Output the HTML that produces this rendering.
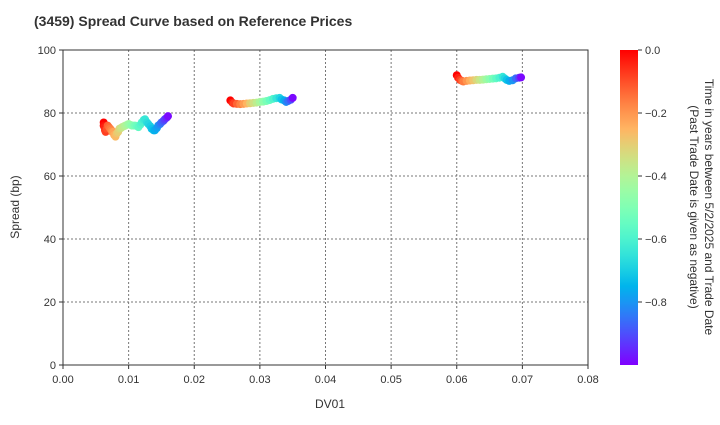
<!DOCTYPE html>
<html><head><meta charset="utf-8"><style>
body{margin:0;background:#fff;font-family:"Liberation Sans",sans-serif;}
svg text{font-family:"Liberation Sans",sans-serif;fill:#333;}
</style></head><body>
<svg width="720" height="420">
<defs><linearGradient id="cb" x1="0" y1="1" x2="0" y2="0" id2="g"></linearGradient></defs>
<text x="34" y="26" font-size="14" font-weight="bold" fill="#222">(3459)   Spread Curve based on Reference Prices</text>
<g id="grid"></g><g id="pts"></g><g id="axes"></g>
<rect x="620" y="50" width="18" height="315" fill="url(#cb)"/>
<g id="cbticks"></g>
<text x="330" y="408" font-size="12" text-anchor="middle">DV01</text>
<text transform="translate(19,207) rotate(-90)" font-size="12" text-anchor="middle">Spread (bp)</text>
<text transform="translate(699,207) rotate(90)" font-size="12" text-anchor="middle"><tspan x="0" dy="-6">Time in years between 5/2/2025 and Trade Date</tspan><tspan x="0" dy="15">(Past Trade Date is given as negative)</tspan></text>
</svg>
<script>
const xTicks=[0,0.01,0.02,0.03,0.04,0.05,0.06,0.07,0.08];
const xTickLabels=["0.00","0.01","0.02","0.03","0.04","0.05","0.06","0.07","0.08"];
const yTicks=[0,20,40,60,80,100];
const cTicks=[0,-0.2,-0.4,-0.6,-0.8];
const cTickLabels=["0.0","−0.2","−0.4","−0.6","−0.8"];
const dv01=[0.0062,0.0062,0.0063,0.0064,0.0065,0.0067,0.0068,0.007,0.0072,0.0074,0.0075,0.0077,0.0078,0.008,0.0082,0.0084,0.0086,0.0088,0.009,0.0093,0.0095,0.0098,0.0100,0.0103,0.0105,0.0108,0.011,0.0113,0.0115,0.0118,0.012,0.0123,0.0125,0.0128,0.013,0.0133,0.0135,0.0138,0.014,0.0143,0.0145,0.0148,0.015,0.0153,0.0155,0.0158,0.016,
0.0255,0.0258,0.026,0.0265,0.027,0.0275,0.028,0.0285,0.029,0.0295,0.030,0.0305,0.031,0.0315,0.032,0.0325,0.033,0.0333,0.0337,0.034,0.0343,0.0347,0.035,
0.0600,0.0602,0.0605,0.0608,0.061,0.0615,0.062,0.0625,0.063,0.0635,0.064,0.0645,0.065,0.0655,0.066,0.0665,0.067,0.0673,0.0676,0.068,0.0685,0.069,0.0695,0.0698];
const spread=[77,76,75.5,74.5,74,75,76,75.5,75,74.5,74,74,73,72.5,73.5,74,75,75.2,75.5,75.8,76,76.3,76.5,76.2,76,76,76,75.8,75.5,76.3,77,77.8,78,77,76.5,75.8,75,74.5,74.5,75.2,76,76.5,77,77.5,78,78.5,79,
84,83.3,83,82.9,82.8,82.9,83,83.1,83.2,83.3,83.5,83.6,83.8,84.1,84.5,84.7,84.8,84.3,84,83.5,83.8,84.2,84.8,
92,91.2,90.5,90.2,90,90.2,90.3,90.4,90.5,90.5,90.6,90.7,90.8,90.9,91,91.2,91.5,91,90.5,90.2,90.4,91,91.2,91.3];
const tYears=[0,-0.02,-0.04,-0.06,-0.08,-0.1,-0.12,-0.14,-0.16,-0.18,-0.2,-0.22,-0.24,-0.26,-0.28,-0.3,-0.32,-0.34,-0.36,-0.38,-0.4,-0.42,-0.44,-0.46,-0.48,-0.5,-0.52,-0.54,-0.56,-0.58,-0.6,-0.62,-0.64,-0.66,-0.68,-0.7,-0.72,-0.74,-0.76,-0.78,-0.8,-0.83,-0.86,-0.89,-0.92,-0.95,-0.99,
0,-0.04,-0.08,-0.13,-0.17,-0.21,-0.25,-0.3,-0.34,-0.38,-0.42,-0.47,-0.51,-0.55,-0.59,-0.64,-0.68,-0.72,-0.76,-0.81,-0.85,-0.9,-0.99,
0,-0.04,-0.08,-0.12,-0.16,-0.2,-0.24,-0.28,-0.32,-0.36,-0.4,-0.44,-0.48,-0.52,-0.56,-0.6,-0.64,-0.68,-0.72,-0.76,-0.8,-0.86,-0.92,-0.99];
const X0=63,X1=588,Y0=365,Y1=50;
const sx=v=>X0+v/0.08*(X1-X0), sy=v=>Y0-v/100*(Y0-Y1), sc=v=>Y1+(-v)/1*(Y0-Y1);
const NS="http://www.w3.org/2000/svg";
function mk(p,t,a){const e=document.createElementNS(NS,t);for(const k in a)e.setAttribute(k,a[k]);p.appendChild(e);return e;}
function rb(x){const cl=v=>Math.round(255*Math.max(0,Math.min(1,v)));
 return `rgb(${cl(Math.abs(2*x-0.5))},${cl(Math.sin(Math.PI*x))},${cl(Math.cos(Math.PI*x/2))})`;}
function col(t){return rb(1+t);}
const grad=document.getElementById('cb');
for(let i=0;i<=20;i++){mk(grad,'stop',{offset:i/20,'stop-color':rb(i/20)});}
const g=document.getElementById('grid'),ax=document.getElementById('axes'),pts=document.getElementById('pts'),cb=document.getElementById('cbticks');
xTicks.forEach((v,i)=>{const x=sx(v);
 if(i>0&&i<xTicks.length-1){const l=mk(g,'line',{x1:x,x2:x,y1:Y1,y2:Y0,stroke:'#777','stroke-dasharray':'2,2'});}
 mk(ax,'line',{x1:x,x2:x,y1:Y0,y2:Y0+4,stroke:'#333'});
 const t=mk(ax,'text',{x:x,y:Y0+18,'font-size':11,'text-anchor':'middle'});t.textContent=xTickLabels[i];
 });
yTicks.forEach(v=>{const y=sy(v);
 if(v>0&&v<100){const l=mk(g,'line',{x1:X0,x2:X1,y1:y,y2:y,stroke:'#777','stroke-dasharray':'2,2'});}
 mk(ax,'line',{x1:X0-4,x2:X0,y1:y,y2:y,stroke:'#333'});
 const t=mk(ax,'text',{x:X0-7,y:y+4,'font-size':11,'text-anchor':'end'});t.textContent=v;
 });
const fr=mk(ax,'rect',{x:X0,y:Y1,width:X1-X0,height:Y0-Y1,fill:'none',stroke:'#333'});

dv01.forEach((d,i)=>{const c=mk(pts,'circle',{cx:sx(d),cy:sy(spread[i]),r:4,fill:col(tYears[i])});
 });
cTicks.forEach((v,i)=>{const y=sc(v);mk(cb,'line',{x1:638,x2:642,y1:y,y2:y,stroke:'#333'});
 const t=mk(cb,'text',{x:645,y:y+4,'font-size':11});t.textContent=cTickLabels[i];
 });
</script>
</body></html>
